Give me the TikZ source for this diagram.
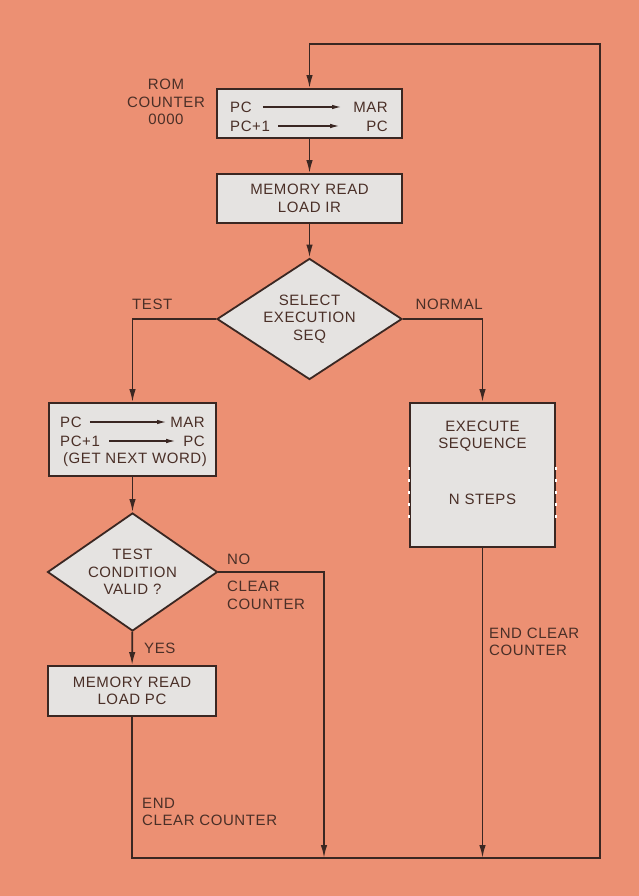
\documentclass[tikz,border=0pt]{standalone}
\usepackage{fontspec}
\setmainfont{Liberation Sans}[LetterSpace=4]
\usepackage{xcolor}
\usepackage{tikz}
\usetikzlibrary{arrows.meta,shapes.geometric}
\definecolor{salmonBg}{HTML}{EC9073}
\definecolor{boxGrey}{HTML}{E5E3E1}
\definecolor{inkDark}{HTML}{3A2722}
\definecolor{inkText}{HTML}{4A2F27}

\begin{document}
\begin{tikzpicture}[x=1pt, y=-1pt,
  every node/.style={font=\fontsize{15}{17.5}\selectfont, text=inkText, align=center},
  flowbox/.style={draw=inkDark, fill=boxGrey, line width=1.8pt, rectangle, inner sep=0pt},
  flowdiam/.style={draw=inkDark, fill=boxGrey, line width=1.8pt, diamond, inner sep=0pt},
  flowarrow/.style={draw=inkDark, line width=1.7pt, -{Latex[length=13pt,width=6.5pt]}},
  inarrow/.style={draw=inkDark, line width=1.1pt, -{Latex[length=9pt,width=4.5pt]}},
  boxtext/.style={inner sep=1pt},
  lbl/.style={inner sep=0pt, align=left}]
  \useasboundingbox (0,0) rectangle (639,896);
  \fill[salmonBg] (0,0) rectangle (639,896);
  \node[flowbox, minimum width=185pt, minimum height=49pt] (fetchA) at (309.5,113.5) {};
  \node[flowbox, minimum width=185pt, minimum height=49pt] (loadIR) at (309.5,198.5) {MEMORY READ\\LOAD IR};
  \node[flowdiam, aspect=1.53, minimum width=185pt, minimum height=121pt] (selSeq) at (309.5,319) {SELECT\\EXECUTION\\SEQ};
  \node[flowbox, minimum width=167pt, minimum height=73pt] (fetchB) at (132.5,439.5) {};
  \node[flowbox, minimum width=145pt, minimum height=144pt] (execSeq) at (482.5,475) {};
  \node[flowdiam, aspect=1.44, minimum width=170pt, minimum height=118pt] (testCond) at (132.5,572) {TEST\\CONDITION\\VALID ?};
  \node[flowbox, minimum width=168pt, minimum height=50pt] (loadPC) at (132,691) {MEMORY READ\\LOAD PC};
  \draw[white, line width=2.4pt, dash pattern=on 3pt off 9pt] (execSeq.north west) ++(0,65) -- ++(0,52);
  \draw[white, line width=2.4pt, dash pattern=on 3pt off 9pt] (execSeq.north east) ++(0,65) -- ++(0,52);
  \node[boxtext, anchor=west] (pcA) at (229,107) {PC};
  \node[boxtext, anchor=east] (marA) at (389,107) {MAR};
  \node[boxtext, anchor=west] (incA) at (229,126) {PC+1};
  \node[boxtext, anchor=east] (pcNewA) at (389,126) {PC};
  \draw[inarrow, shorten <=10pt, shorten >=11pt] (pcA) -- (marA);
  \draw[inarrow, shorten <=7pt, shorten >=26pt] (incA) -- (pcNewA);
  \node[boxtext, anchor=west] (pcB) at (59,422) {PC};
  \node[boxtext, anchor=east] (marB) at (206,422) {MAR};
  \node[boxtext, anchor=west] (incB) at (59,441) {PC+1};
  \node[boxtext, anchor=east] (pcNewB) at (206,441) {PC};
  \node[boxtext] (nextWord) at (135,460) {(GET NEXT WORD)};
  \draw[inarrow, shorten <=7pt, shorten >=3pt] (pcB) -- (marB);
  \draw[inarrow, shorten <=8pt, shorten >=7pt] (incB) -- (pcNewB);
  \node (execTxt) at (482.5,436) {EXECUTE\\SEQUENCE};
  \node (nSteps) at (482.5,499) {N STEPS};
  \node[inner sep=0pt] (romLbl) at (166,102) {ROM\\COUNTER\\0000};
  \node[lbl, anchor=west] (testLbl) at (132,304) {TEST};
  \node[lbl, anchor=east] (normalLbl) at (483,304) {NORMAL};
  \node[lbl, anchor=west] (noLbl) at (227,559) {NO};
  \node[lbl, anchor=west] (clearLbl) at (227,595.5) {CLEAR\\COUNTER};
  \node[lbl, anchor=west] (yesLbl) at (144,648) {YES};
  \node[lbl, anchor=west] (endExLbl) at (489,642) {END CLEAR\\COUNTER};
  \node[lbl, anchor=west] (endPcLbl) at (142,812) {END\\CLEAR COUNTER};
  \coordinate (joinNo) at (324,858);
  \coordinate (joinEx) at (482.5,858);
  \coordinate (cornerBL) at (132,858);
  \coordinate (cornerBR) at (600,858);
  \coordinate (cornerTR) at (600,44);
  \coordinate (cornerTL) at (309.5,44);
  \draw[flowarrow] (fetchA) -- (loadIR);
  \draw[flowarrow] (loadIR) -- (selSeq);
  \draw[flowarrow] (selSeq.west) -| (fetchB.north);
  \draw[flowarrow] (selSeq.east) -| (execSeq.north);
  \draw[flowarrow] (fetchB) -- (testCond);
  \draw[flowarrow] (testCond) -- (loadPC);
  \draw[flowarrow] (testCond.east) -| (joinNo);
  \draw[flowarrow] (execSeq) -- (joinEx);
  \draw[flowarrow] (loadPC) -- (cornerBL) -- (cornerBR) -- (cornerTR) -- (cornerTL) -- (fetchA);
\end{tikzpicture}
\end{document}
